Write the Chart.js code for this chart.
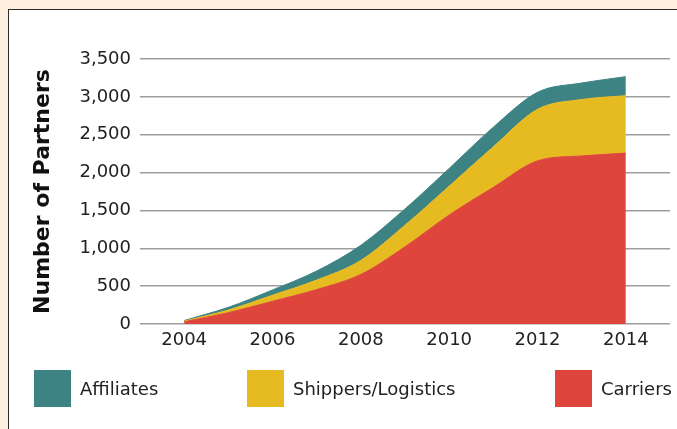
<!DOCTYPE html>
<html>
<head>
<meta charset="utf-8">
<script src="https://cdn.jsdelivr.net/npm/chart.js@4.4.1/dist/chart.umd.min.js"></script>
<style>
  html, body { margin: 0; padding: 0; }
  body { width: 677px; height: 429px; background: #fdf0df; position: relative; overflow: hidden; font-family: "DejaVu Sans", sans-serif; }
  #panel { position: absolute; left: 8px; top: 9px; width: 680px; height: 440px; background: #fff; border: 1.5px solid #2b2b2b; }
  #chart { position: absolute; left: 0; top: 0; }
  .key { position: absolute; top: 370px; height: 37px; display: flex; align-items: center; font-size: 18px; color: #222; white-space: nowrap; }
  .key span { display: inline-block; width: 37px; height: 37px; margin-right: 9px; }
</style>
</head>
<body>
<div id="panel"></div>
<canvas id="chart" width="677" height="429"></canvas>
<div id="legend"></div>
<script>
// data
const years = [2004, 2005, 2006, 2007, 2008, 2009, 2010, 2011, 2012, 2013, 2014];
const carriers = [30, 150, 300, 455, 655, 1020, 1440, 1805, 2155, 2220, 2257];
const shippers = [8, 35, 80, 125, 185, 285, 380, 535, 680, 745, 759];
const affiliates = [8, 35, 70, 120, 200, 215, 235, 260, 225, 218, 251];
const tickYears = [2004, 2006, 2008, 2010, 2012, 2014];
const yTicks = [0, 500, 1000, 1500, 2000, 2500, 3000, 3500];

const seriesNames = ["Affiliates", "Shippers/Logistics", "Carriers"];
const seriesColors = ["#3d8384", "#e6bb22", "#de463d"];
const legendX = [34, 247, 555];

function pts(vals) {
  return years.map((y, i) => ({ x: y, y: vals[i] }));
}

function area(label, vals, color, fill) {
  return {
    label: label,
    data: pts(vals),
    backgroundColor: color,
    borderColor: color,
    borderWidth: 1,
    pointRadius: 0,
    fill: fill,
    cubicInterpolationMode: "monotone",
  };
}

const ctx = document.getElementById("chart").getContext("2d");
new Chart(ctx, {
  type: "line",
  data: {
    datasets: [
      area("Carriers", carriers, seriesColors[2], "origin"),
      area("Shippers/Logistics", shippers, seriesColors[1], "-1"),
      area("Affiliates", affiliates, seriesColors[0], "-1"),
    ],
  },
  options: {
    responsive: false,
    animation: false,
    layout: { padding: { left: 18, top: 59, right: 7, bottom: 0 } },
    plugins: { legend: { display: false }, tooltip: { enabled: false } },
    scales: {
      x: {
        type: "linear",
        min: 2003,
        max: 2015,
        afterBuildTicks: (s) => { s.ticks = tickYears.map((v) => ({ value: v })); },
        afterFit: (s) => { s.height = 105; },
        grid: { display: false, drawTicks: false },
        border: { display: false },
        ticks: {
          padding: 6,
          color: "#222",
          font: { family: "DejaVu Sans", size: 18 },
          callback: (v) => String(v),
        },
      },
      y: {
        stacked: true,
        min: 0,
        max: 3500,
        afterBuildTicks: (s) => { s.ticks = yTicks.map((v) => ({ value: v })); },
        afterFit: (s) => { s.width = 122; },
        grid: { color: "#9d9d9d", lineWidth: 1.5, drawTicks: false },
        border: { display: false },
        ticks: {
          padding: 9,
          color: "#222",
          font: { family: "DejaVu Sans", size: 18 },
          callback: (v) => v.toLocaleString("en-US"),
        },
        title: {
          display: true,
          text: "Number of Partners",
          color: "#111",
          padding: { top: 12, bottom: 0 },
          font: { family: "DejaVu Sans", size: 22, weight: "bold" },
        },
      },
    },
  },
});

// legend row under the chart
const legend = document.getElementById("legend");
seriesNames.forEach((name, i) => {
  const d = document.createElement("div");
  d.className = "key";
  d.style.left = legendX[i] + "px";
  d.innerHTML = '<span style="background:' + seriesColors[i] + '"></span>' + name;
  legend.appendChild(d);
});
</script>
</body>
</html>
